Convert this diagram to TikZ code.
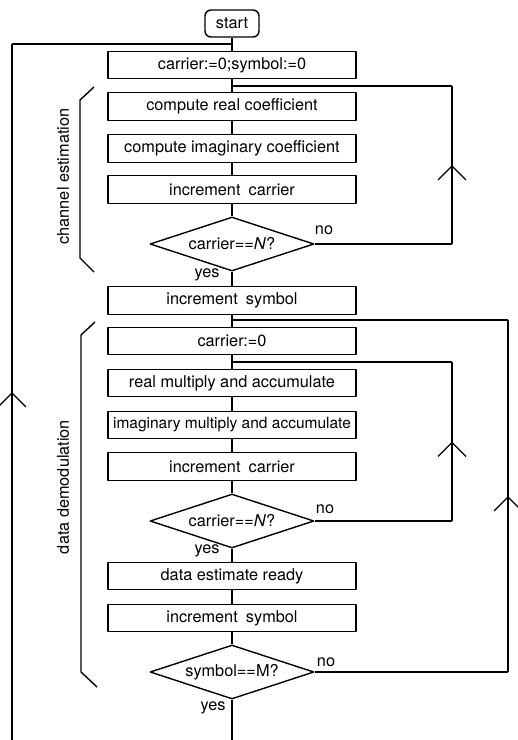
\documentclass[tikz,border=0pt]{standalone}
\usepackage{fontspec}
\setmainfont{TeX Gyre Heros}
\usetikzlibrary{shapes.geometric}
\usetikzlibrary{arrows.meta}
\usetikzlibrary{decorations.markings}

\begin{document}
\begin{tikzpicture}[x=1pt, y=-1pt, line width=1.4pt, line join=round,
  every node/.style={font=\fontsize{16.3}{19}\selectfont},
  termbox/.style={draw, rounded corners=6pt, minimum width=54pt, minimum height=27pt, inner sep=0pt},
  procbox/.style={draw, minimum width=248pt, minimum height=27.5pt, inner sep=0pt},
  testbox/.style={draw, shape=diamond, aspect=3, minimum width=164pt, minimum height=54pt, inner sep=0pt},
  tag/.style={inner sep=0pt},
  rise/.style={decoration={markings, mark=at position 0.5 with {\arrow{Straight Barb[length=14pt,width=28pt]}}}, postaction=decorate}]
\useasboundingbox (0,0) rectangle (518,740);
%% channel estimation
\node (start) at (232,23.5) [termbox] {start};
\foreach \n/\y/\t in {b1/65/{carrier:=0;symbol:=0}, b2/106.5/{compute real coefficient},
    b3/148.5/{compute imaginary coefficient}, b4/189.5/{increment\enspace carrier}}
  \node (\n) at (232,\y) [procbox] {\t};
\node (d1) at (232,244) [testbox] {carrier==\textit{N}?};
\node (no1) at (324,230) [tag] {no};
\node (yes1) at (207,275) [tag] {yes};
%% data demodulation
\foreach \n/\y/\t in {b5/300.5/{increment\enspace symbol}, b6/341/{carrier:=0},
    b7/383/{real multiply and accumulate}, b8/425/{\fontsize{15.5}{19}\selectfont imaginary multiply and accumulate},
    b9/466.5/{increment\enspace carrier}}
  \node (\n) at (232,\y) [procbox] {\t};
\node (d2) at (232,521) [testbox] {carrier==\textit{N}?};
\node (no2) at (325,509) [tag] {no};
\node (yes2) at (207,551) [tag] {yes};
\foreach \n/\y/\t in {b10/576/{data estimate ready}, b11/618/{increment\enspace symbol}}
  \node (\n) at (232,\y) [procbox] {\t};
\node (d3) at (232,672) [testbox] {symbol==M?};
\node (no3) at (326,662) [tag] {no};
\node (yes3) at (213,708) [tag] {yes};
%% side labels
\node (lab1) at (63,176.5) [tag, rotate=90] {channel estimation};
\node (lab2) at (63,487) [tag, rotate=90] {data demodulation};
\draw (94,87) -- (80,100) -- (80,258) -- (94,272);
\draw (95,322) -- (81,335) -- (81,672) -- (97,687);
%% main line
\coordinate (exit) at (232,740);
\draw (start) -- (b1) -- (b2) -- (b3) -- (b4) -- (d1) -- (b5) -- (b6) -- (b7) -- (b8) -- (b9)
  -- (d2) -- (b10) -- (b11) -- (d3) -- (exit);
%% loops
\coordinate (j0) at (232,44);
\coordinate (j1) at (232,86);
\coordinate (j2) at (232,320);
\coordinate (j3) at (232,362);
\coordinate (c0) at (12,44);
\coordinate (c1) at (452,86);
\coordinate (c2) at (508,320);
\coordinate (c3) at (452,362);
\coordinate (back) at (12,740);
\draw [rise] (back) -- (c0);
\draw (c0) -- (j0);
\foreach \d/\c/\j in {d1/c1/j1, d3/c2/j2, d2/c3/j3} {
  \draw (\d.east) -- (\d.east -| \c);
  \draw [rise] (\d.east -| \c) -- (\c);
  \draw (\c) -- (\j);
}
\end{tikzpicture}
\end{document}
